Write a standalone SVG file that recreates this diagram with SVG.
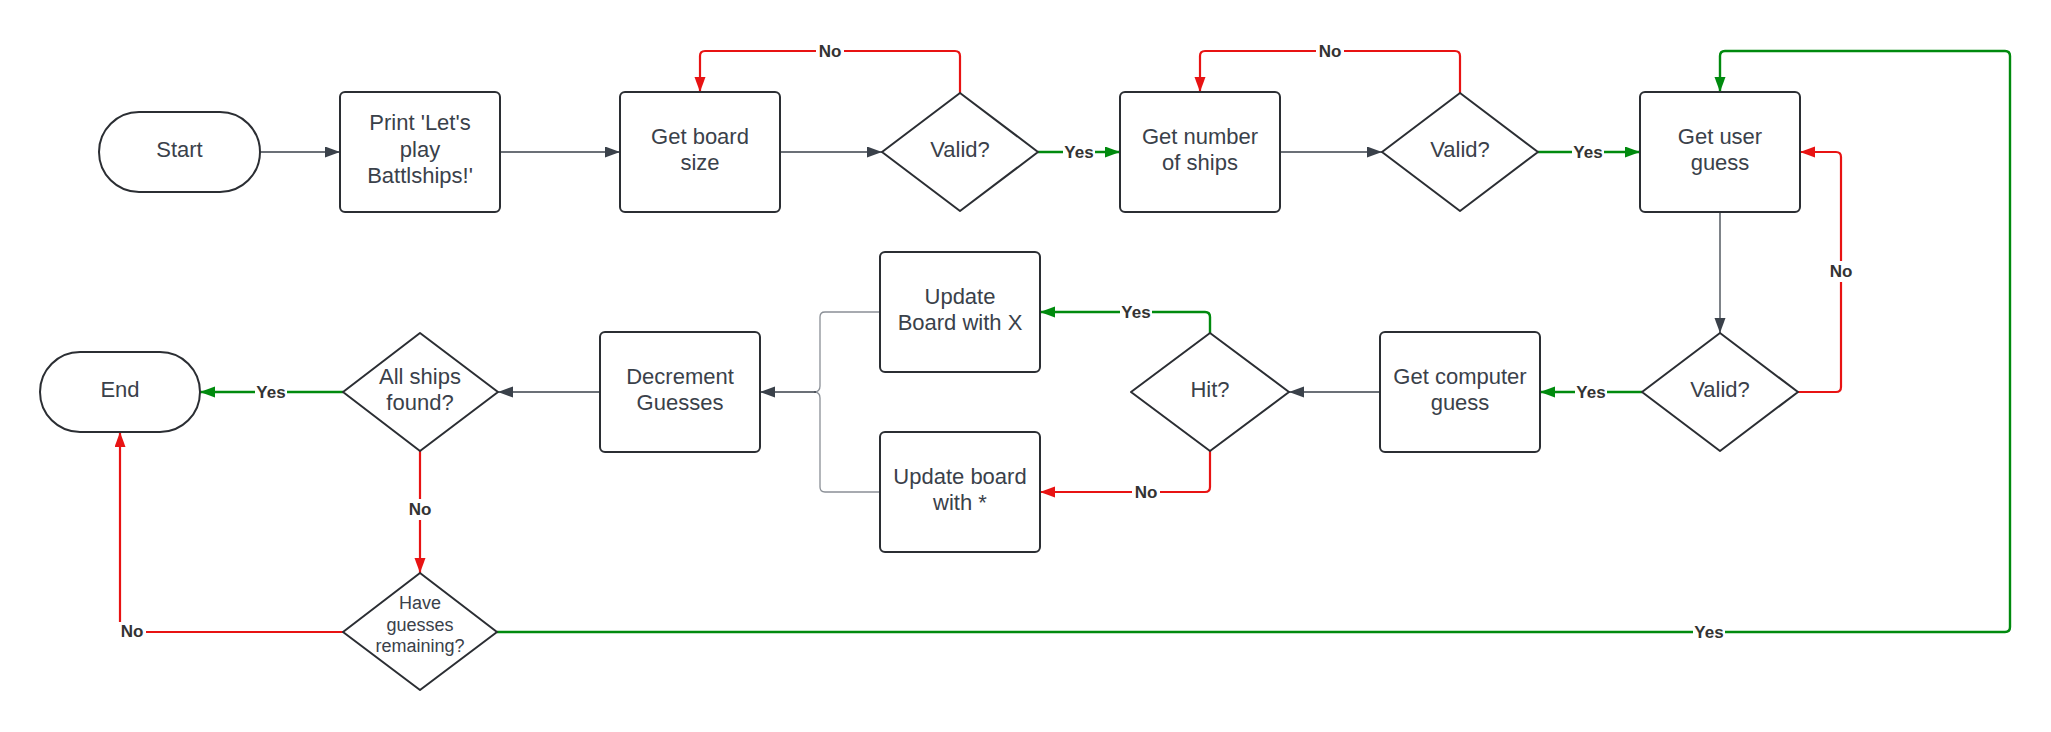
<svg xmlns="http://www.w3.org/2000/svg" width="2051" height="732" viewBox="0 0 2051 732">
<style>
.n{fill:#fff;stroke:#2b2e33;stroke-width:2;stroke-linejoin:round}
.t{font-family:"Liberation Sans",Arial,sans-serif;font-size:22px;fill:#3a414a;text-anchor:middle}
.ts{font-family:"Liberation Sans",Arial,sans-serif;font-size:18px;fill:#3a414a;text-anchor:middle}
.c{fill:none;stroke:#3a414a;stroke-width:1.3}
.b{fill:none;stroke:#8a8f96;stroke-width:1.3}
.g{fill:none;stroke:#008a0e;stroke-width:2.4}
.r{fill:none;stroke:#e81313;stroke-width:2.2}
.l{font-family:"Liberation Sans",Arial,sans-serif;font-size:17px;font-weight:bold;fill:#333;text-anchor:middle}
.lb{fill:#fff}
</style>
<defs>
<marker id="ac" markerUnits="userSpaceOnUse" markerWidth="16" markerHeight="12" refX="15" refY="5.5" orient="auto"><path d="M0,0 L15,5.5 L0,11 z" fill="#3a414a"/></marker>
<marker id="ag" markerUnits="userSpaceOnUse" markerWidth="16" markerHeight="12" refX="15" refY="5.5" orient="auto"><path d="M0,0 L15,5.5 L0,11 z" fill="#008a0e"/></marker>
<marker id="ar" markerUnits="userSpaceOnUse" markerWidth="16" markerHeight="12" refX="15" refY="5.5" orient="auto"><path d="M0,0 L15,5.5 L0,11 z" fill="#e81313"/></marker>
</defs>
<rect width="2051" height="732" fill="#fff"/>
<g id="connectors">
<path class="c" d="M260,152 H340" marker-end="url(#ac)"/>
<path class="c" d="M500,152 H620" marker-end="url(#ac)"/>
<path class="c" d="M780,152 H882" marker-end="url(#ac)"/>
<path class="g" d="M1038,152 H1120" marker-end="url(#ag)"/>
<path class="r" d="M960,93 V56 Q960,51 955,51 H705 Q700,51 700,56 V92" marker-end="url(#ar)"/>
<path class="c" d="M1280,152 H1382" marker-end="url(#ac)"/>
<path class="g" d="M1538,152 H1640" marker-end="url(#ag)"/>
<path class="r" d="M1460,93 V56 Q1460,51 1455,51 H1205 Q1200,51 1200,56 V92" marker-end="url(#ar)"/>
<path class="c" d="M1720,212 V333" marker-end="url(#ac)"/>
<path class="r" d="M1798,392 H1836 Q1841,392 1841,387 V157 Q1841,152 1836,152 H1800" marker-end="url(#ar)"/>
<path class="g" d="M1642,392 H1540" marker-end="url(#ag)"/>
<path class="c" d="M1380,392 H1289" marker-end="url(#ac)"/>
<path class="g" d="M1210,333 V317 Q1210,312 1205,312 H1040" marker-end="url(#ag)"/>
<path class="r" d="M1210,451 V487 Q1210,492 1205,492 H1040" marker-end="url(#ar)"/>
<path class="b" d="M880,312 H825 Q820,312 820,317 V386 Q820,392 814,392"/>
<path class="b" d="M880,492 H825 Q820,492 820,487 V398 Q820,392 814,392"/>
<path class="c" d="M816,392 H760" marker-end="url(#ac)"/>
<path class="c" d="M600,392 H498" marker-end="url(#ac)"/>
<path class="g" d="M343,392 H200" marker-end="url(#ag)"/>
<path class="r" d="M420,451 V573" marker-end="url(#ar)"/>
<path class="r" d="M343,632 H125 Q120,632 120,627 V432" marker-end="url(#ar)"/>
<path class="g" d="M497,632 H2005 Q2010,632 2010,627 V56 Q2010,51 2005,51 H1725 Q1720,51 1720,56 V92" marker-end="url(#ag)"/>
<rect class="lb" x="816" y="42" width="28" height="17"/><text class="l" x="830" y="57">No</text>
<rect class="lb" x="1316" y="42" width="28" height="17"/><text class="l" x="1330" y="57">No</text>
<rect class="lb" x="1063" y="143" width="32" height="17"/><text class="l" x="1079" y="158">Yes</text>
<rect class="lb" x="1572" y="143" width="32" height="17"/><text class="l" x="1588" y="158">Yes</text>
<rect class="lb" x="1828" y="261" width="27" height="21"/><text class="l" x="1841" y="277">No</text>
<rect class="lb" x="1575" y="383" width="32" height="17"/><text class="l" x="1591" y="398">Yes</text>
<rect class="lb" x="1120" y="303" width="32" height="17"/><text class="l" x="1136" y="318">Yes</text>
<rect class="lb" x="1132" y="483" width="28" height="17"/><text class="l" x="1146" y="498">No</text>
<rect class="lb" x="255" y="383" width="32" height="17"/><text class="l" x="271" y="398">Yes</text>
<rect class="lb" x="406" y="499" width="28" height="21"/><text class="l" x="420" y="515">No</text>
<rect class="lb" x="118" y="622" width="28" height="18"/><text class="l" x="132" y="637">No</text>
<rect class="lb" x="1693" y="623" width="32" height="17"/><text class="l" x="1709" y="638">Yes</text>
</g>
<g id="start"><rect class="n" x="99" y="112" width="161" height="80" rx="40"/><text class="t" x="179.5" y="156.5">Start</text></g>
<g id="print"><rect class="n" x="340" y="92" width="160" height="120" rx="5"/><text class="t" x="420" y="130">Print 'Let's</text><text class="t" x="420" y="156.5">play</text><text class="t" x="420" y="183">Battlships!'</text></g>
<g id="board"><rect class="n" x="620" y="92" width="160" height="120" rx="5"/><text class="t" x="700" y="143.5">Get board</text><text class="t" x="700" y="170">size</text></g>
<g id="valid1"><path class="n" d="M960,93 L1038,152 L960,211 L882,152 Z"/><text class="t" x="960" y="156.5">Valid?</text></g>
<g id="ships"><rect class="n" x="1120" y="92" width="160" height="120" rx="5"/><text class="t" x="1200" y="143.5">Get number</text><text class="t" x="1200" y="170">of ships</text></g>
<g id="valid2"><path class="n" d="M1460,93 L1538,152 L1460,211 L1382,152 Z"/><text class="t" x="1460" y="156.5">Valid?</text></g>
<g id="user"><rect class="n" x="1640" y="92" width="160" height="120" rx="5"/><text class="t" x="1720" y="143.5">Get user</text><text class="t" x="1720" y="170">guess</text></g>
<g id="valid3"><path class="n" d="M1720,333 L1798,392 L1720,451 L1642,392 Z"/><text class="t" x="1720" y="396.5">Valid?</text></g>
<g id="computer"><rect class="n" x="1380" y="332" width="160" height="120" rx="5"/><text class="t" x="1460" y="383.5">Get computer</text><text class="t" x="1460" y="410">guess</text></g>
<g id="hit"><path class="n" d="M1210,333 L1289,392 L1210,451 L1131,392 Z"/><text class="t" x="1210" y="396.5">Hit?</text></g>
<g id="updatex"><rect class="n" x="880" y="252" width="160" height="120" rx="5"/><text class="t" x="960" y="303.5">Update</text><text class="t" x="960" y="330">Board with X</text></g>
<g id="updatestar"><rect class="n" x="880" y="432" width="160" height="120" rx="5"/><text class="t" x="960" y="483.5">Update board</text><text class="t" x="960" y="510">with *</text></g>
<g id="decrement"><rect class="n" x="600" y="332" width="160" height="120" rx="5"/><text class="t" x="680" y="383.5">Decrement</text><text class="t" x="680" y="410">Guesses</text></g>
<g id="allships"><path class="n" d="M420,333 L498,392 L420,451 L343,392 Z"/><text class="t" x="420" y="383.5">All ships</text><text class="t" x="420" y="410">found?</text></g>
<g id="end"><rect class="n" x="40" y="352" width="160" height="80" rx="40"/><text class="t" x="120" y="396.5">End</text></g>
<g id="remaining"><path class="n" d="M420,573 L497,632 L420,690 L343,632 Z"/><text class="ts" x="420" y="609">Have</text><text class="ts" x="420" y="630.5">guesses</text><text class="ts" x="420" y="652">remaining?</text></g>
</svg>
